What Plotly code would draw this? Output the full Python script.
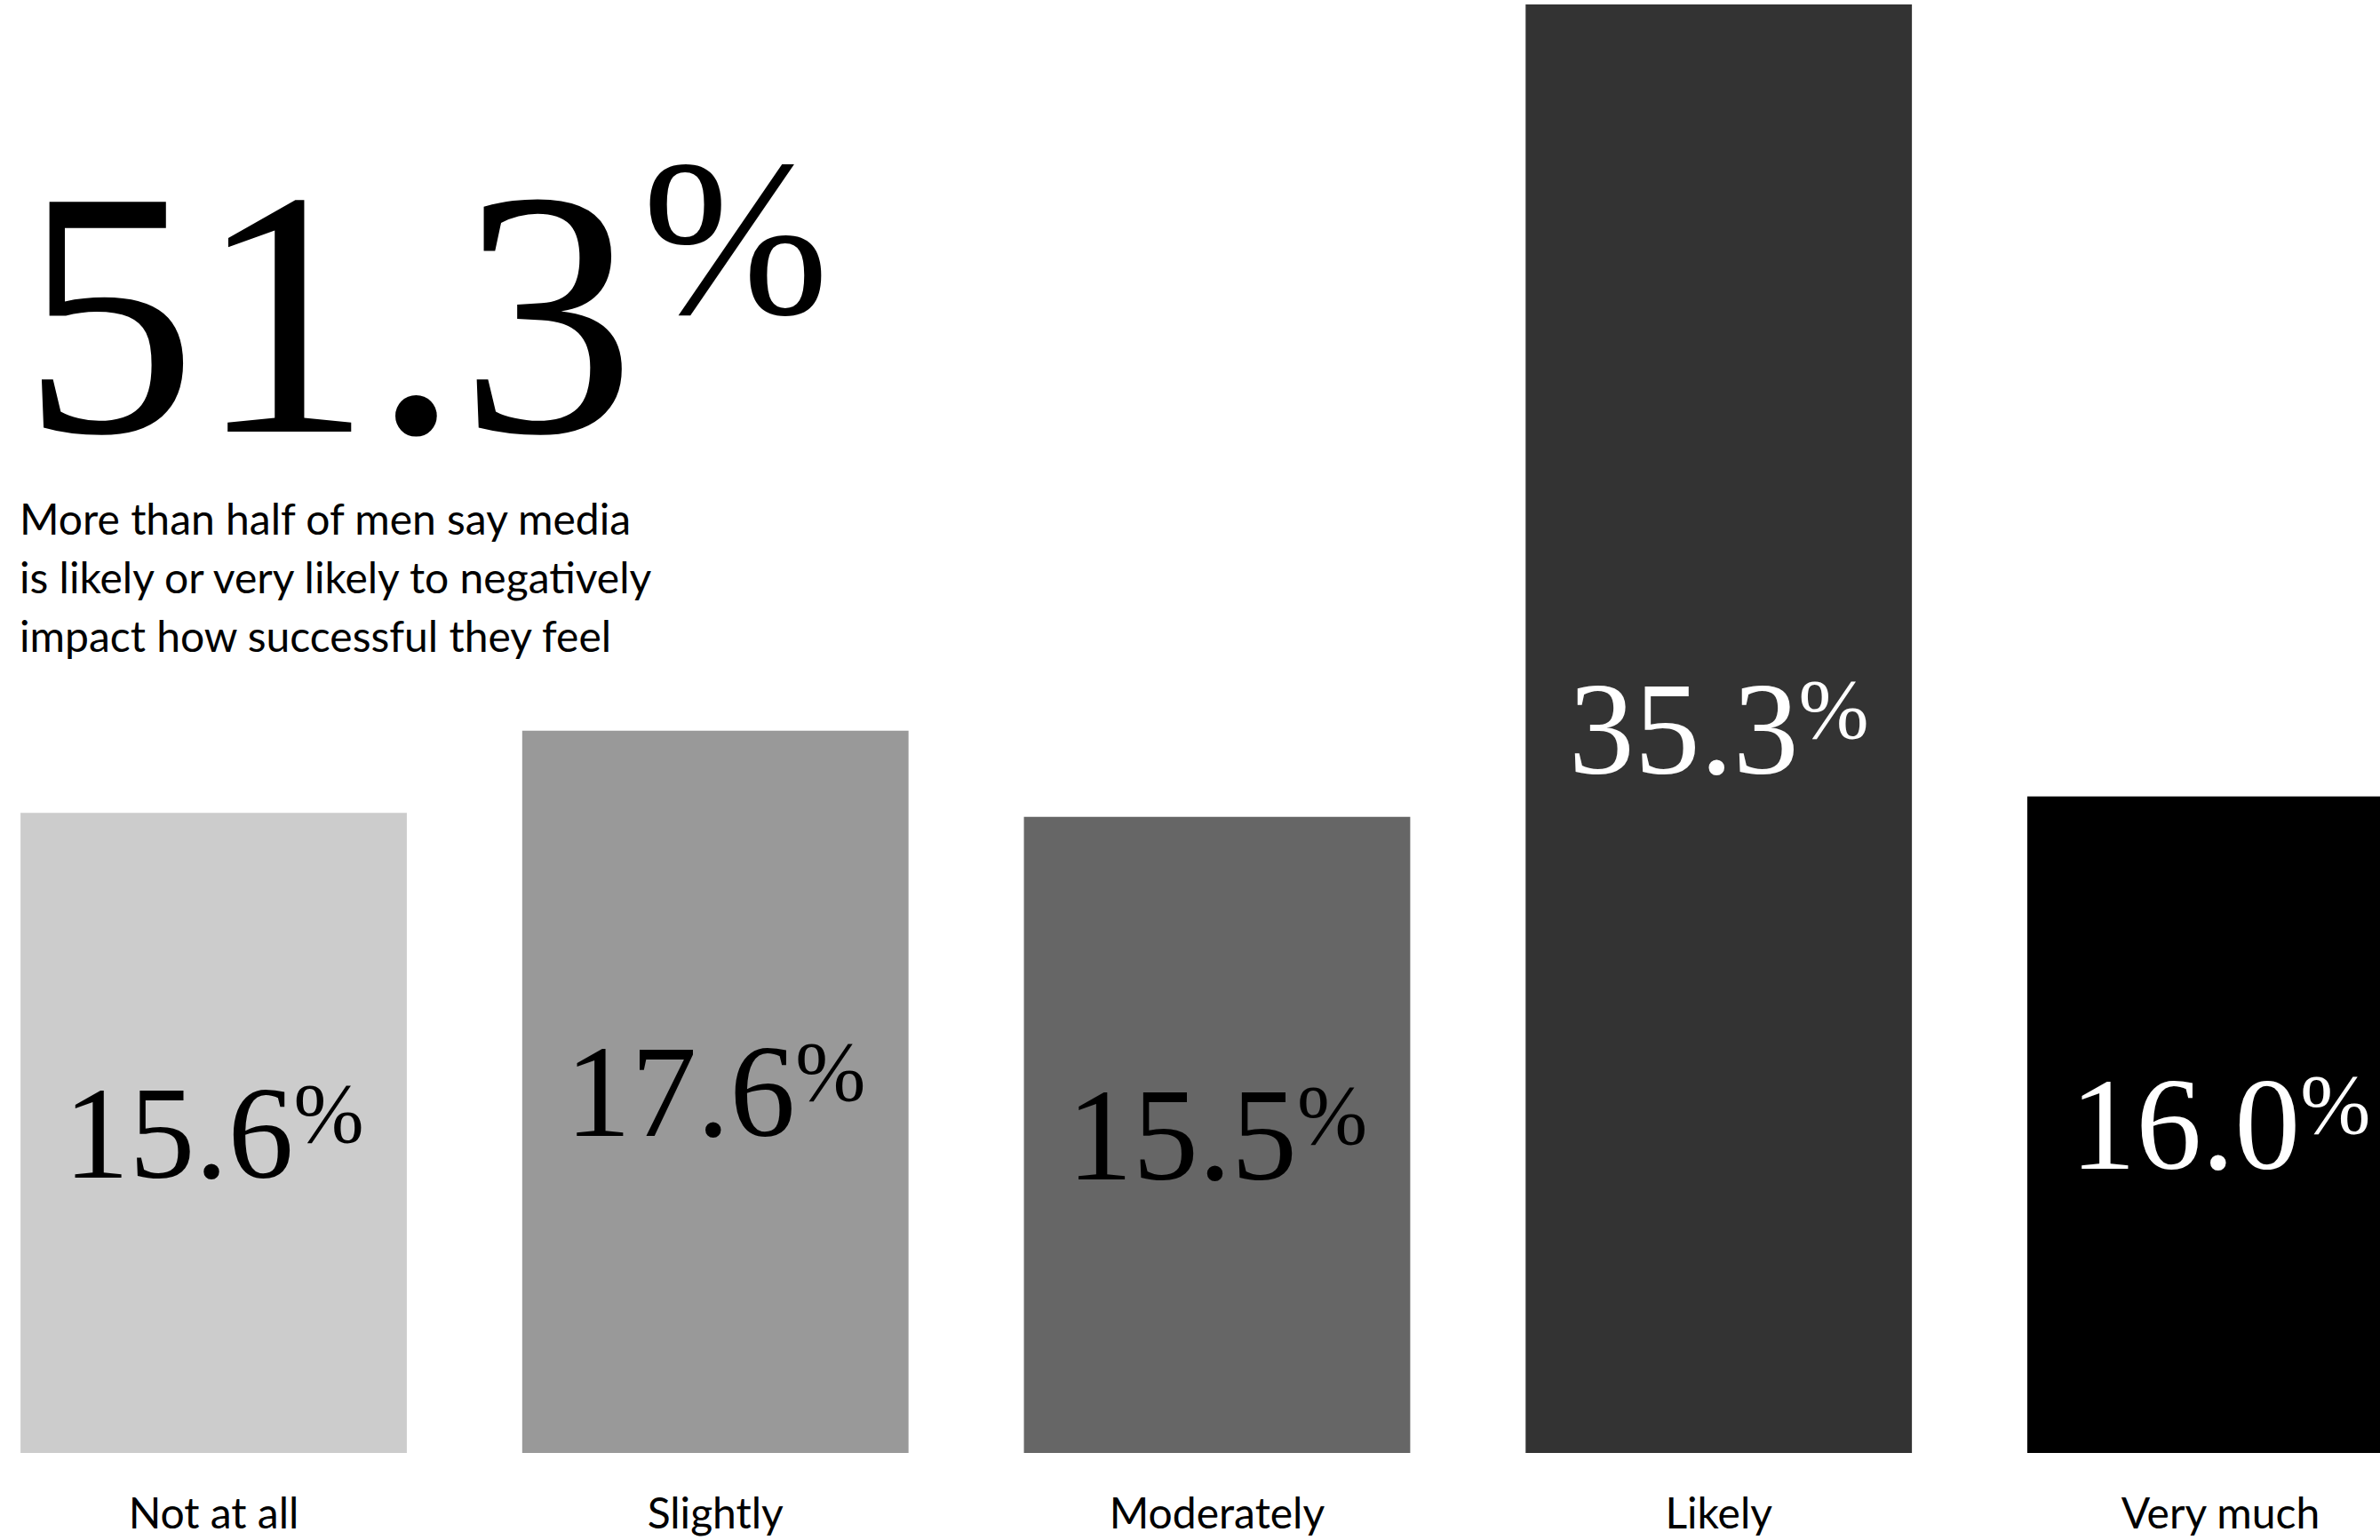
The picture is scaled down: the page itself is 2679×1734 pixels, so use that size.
import plotly.graph_objects as go

categories = ["Not at all", "Slightly", "Moderately", "Likely", "Very much"]
values = [15.6, 17.6, 15.5, 35.3, 16.0]
bar_colors = ["#cccccc", "#999999", "#666666", "#333333", "#000000"]
label_colors = ["#000000", "#000000", "#000000", "#ffffff", "#ffffff"]
headline_value = 51.3
subtitle_lines = [
    "More than half of men say media",
    "is likely or very likely to negatively",
    "impact how successful they feel",
]

SERIF = "Liberation Serif, Times New Roman, serif"
SANS = "Lato, Noto Sans, sans-serif"

W, H = 2679, 1734
MB = 98
PH = H - MB

pct = '<span style="font-size:95px;baseline-shift:40px">%</span>'

fig = go.Figure(
    go.Bar(
        x=categories,
        y=values,
        marker=dict(color=bar_colors, line=dict(width=0)),
        width=0.77,
        text=[f"{v:.1f}{pct}" for v in values],
        textposition="inside",
        insidetextanchor="middle",
        textangle=0,
        constraintext="none",
        textfont=dict(family=SERIF, size=148, color=label_colors),
        hoverinfo="skip",
    )
)

# headline number
fig.add_annotation(
    text=f"{headline_value:.1f}",
    xref="paper", yref="paper",
    x=22 / W, y=(PH - 352) / PH,
    xanchor="left", yanchor="middle",
    showarrow=False,
    font=dict(family=SERIF, size=395, color="#000000"),
)
fig.add_annotation(
    text="%",
    xref="paper", yref="paper",
    x=828 / W, y=(PH - 268) / PH,
    xanchor="center", yanchor="middle",
    showarrow=False,
    font=dict(family=SERIF, size=252, color="#000000"),
)

line_centers_px = [583, 649, 716]
for line, cy in zip(subtitle_lines, line_centers_px):
    fig.add_annotation(
        text=line,
        xref="paper", yref="paper",
        x=20 / W, y=(PH - cy) / PH,
        xanchor="left", yanchor="middle", align="left",
        showarrow=False,
        font=dict(family=SANS, size=48, color="#000000"),
    )

fig.update_layout(
    width=W, height=H,
    margin=dict(l=0, r=0, t=0, b=MB, pad=0),
    paper_bgcolor="#ffffff",
    plot_bgcolor="#ffffff",
    showlegend=False,
    xaxis=dict(
        range=[-0.4259, 4.318],
        showgrid=False, zeroline=False, showline=False,
        ticks="", tickfont=dict(family=SANS, size=48, color="#000000"),
        ticklabelstandoff=36,
    ),
    yaxis=dict(
        range=[0, 35.41],
        visible=False, showgrid=False, zeroline=False,
    ),
)

fig.write_html("out.html")
